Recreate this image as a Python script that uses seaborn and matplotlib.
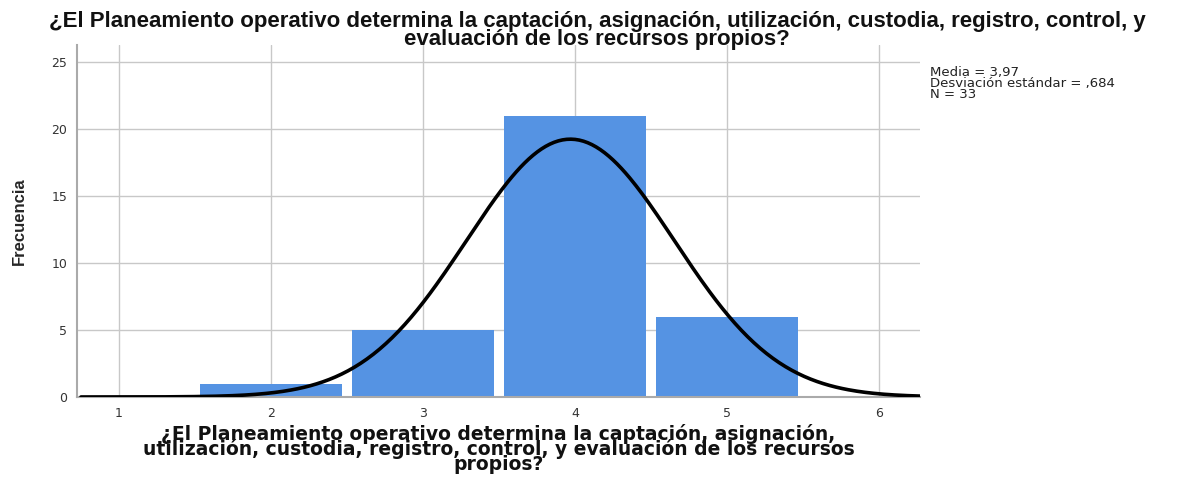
import numpy as np
import pandas as pd
import matplotlib
matplotlib.use("Agg")
import matplotlib.pyplot as plt
import seaborn as sns

# datos
valores = [2, 3, 4, 5]
frecuencias = [1, 5, 21, 6]
media = 3.97
desv = 0.684
n = 33

titulo = ("¿El Planeamiento operativo determina la captación, asignación, utilización, custodia, registro, control, y\n"
          "evaluación de los recursos propios?")
etiqueta_x = ("¿El Planeamiento operativo determina la captación, asignación,\n"
              "utilización, custodia, registro, control, y evaluación de los recursos\n"
              "propios?")

sns.set_style("white")
plt.rcParams['font.family'] = ['DejaVu Sans']

df = pd.DataFrame({"valor": valores, "frecuencia": frecuencias})

fig = plt.figure(figsize=(11.94, 4.78), dpi=100)
ax = fig.add_axes([0.0645, 0.1695, 0.706, 0.737])

sns.histplot(data=df, x="valor", weights="frecuencia", discrete=True, shrink=0.94,
             color="#5593E3", alpha=1, edgecolor="none", ax=ax, zorder=2)

# curva normal ajustada
xs = np.linspace(0.75, 6.27, 400)
ys = n * np.exp(-0.5 * ((xs - media) / desv) ** 2) / (desv * np.sqrt(2 * np.pi))
sns.lineplot(x=xs, y=ys, color="black", linewidth=2.6, ax=ax, zorder=3)

ax.set_xlim(0.724, 6.27)
ax.set_ylim(0, 26.3)
ax.set_xticks([1, 2, 3, 4, 5, 6])
ax.set_yticks([0, 5, 10, 15, 20, 25])
ax.tick_params(axis="both", labelsize=9, colors="#333333", length=0, pad=7)
ax.grid(True, color="#c8c8c8", linewidth=1)
ax.set_axisbelow(True)
for lado in ["top", "right"]:
    ax.spines[lado].set_visible(False)
for lado in ["left", "bottom"]:
    ax.spines[lado].set_color("#aaaaaa")
    ax.spines[lado].set_linewidth(1.5)

ax.set_ylabel("Frecuencia", fontsize=12, fontweight="bold", labelpad=18,
              family=['Liberation Sans', 'DejaVu Sans'])
ax.set_xlabel(etiqueta_x, fontsize=13.5, fontweight="bold", labelpad=3, linespacing=0.72,
              color="#111111")

fig.text(0.5, 0.978, titulo, ha="center", va="top", fontsize=16, fontweight="bold",
         linespacing=0.84, color="#111111", family=['Liberation Sans', 'DejaVu Sans'])
fig.text(0.779, 0.862, f"Media = 3,97\nDesviación estándar = ,684\nN = {n}",
         ha="left", va="top", fontsize=9.5, color="#222222", linespacing=0.8)

fig.savefig("out.png", dpi=100)
